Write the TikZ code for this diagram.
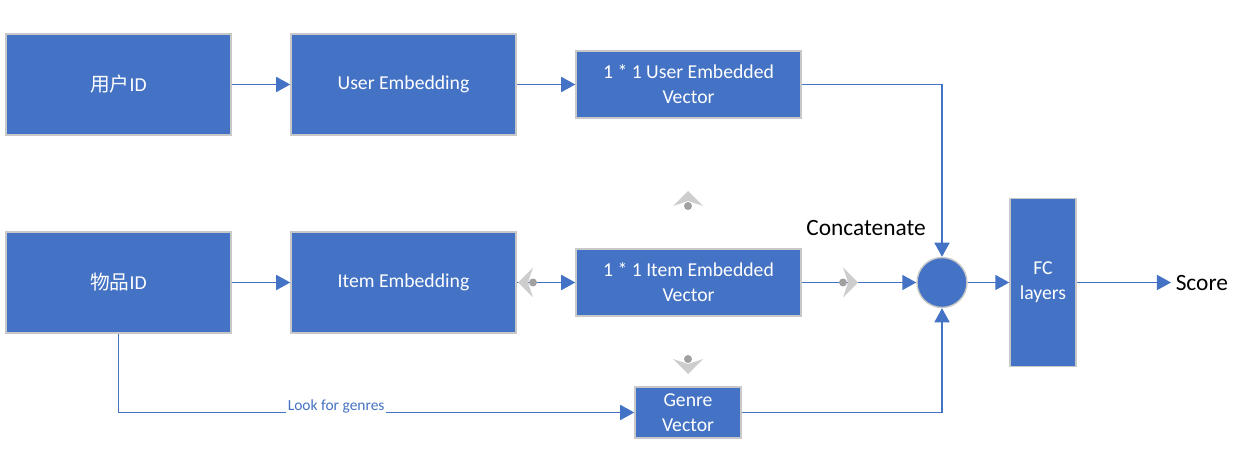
\documentclass[tikz,border=0pt]{standalone}
\usepackage{fontspec}
\setmainfont{Carlito}
\newfontfamily\cjk{Noto Sans CJK SC}
\usetikzlibrary{arrows.meta}
\definecolor{boxblue}{RGB}{68,114,196}
\definecolor{edgegray}{RGB}{200,200,200}
\definecolor{handlegray}{RGB}{205,205,205}
\definecolor{dotgray}{RGB}{160,160,160}

\tikzset{
    block/.style={draw=edgegray, line width=0.8pt, fill=boxblue, text=white, align=center,
        font=\fontsize{11.2}{14.2}\selectfont},
    bigblock/.style={block, minimum width=4.5cm, minimum height=2.02cm},
    vecblock/.style={block, minimum width=4.5cm, minimum height=1.34cm},
    flow/.style={draw=boxblue, line width=1.1pt, -{Triangle[length=8pt,width=8.5pt]}},
    handle/.style={fill=handlegray},
    handledot/.style={fill=dotgray}
}

\begin{document}
\begin{tikzpicture}
        \useasboundingbox (0,0) rectangle (24.92,9.18);

        % user branch
        \node[bigblock] (uid) at (2.37,7.49) {{\cjk 用户}ID};
        \node[bigblock] (uemb) at (8.07,7.49) {User Embedding};
        \node[vecblock] (uvec) at (13.77,7.49) {1 * 1 User Embedded\\Vector};

        % item branch
        \node[bigblock] (iid) at (2.37,3.53) {{\cjk 物品}ID};
        \node[bigblock] (iemb) at (8.07,3.53) {Item Embedding};
        \node[vecblock] (ivec) at (13.77,3.53) {1 * 1 Item Embedded\\Vector};
        \node[block, minimum width=2.12cm, minimum height=1.02cm] (genre) at (13.76,0.93) {Genre\\Vector};

        % concatenation and output
        \node[circle, draw=edgegray, line width=0.8pt, fill=boxblue, minimum size=1cm, inner sep=0pt] (cat) at (18.84,3.53) {};
        \node[font=\fontsize{13.3}{16}\selectfont] (catlabel) at (17.32,4.62) {Concatenate};
        \node[block, minimum width=1.32cm, minimum height=3.36cm] (fc) at (20.86,3.53) {FC\\layers};
        \node[anchor=west, inner sep=2.5pt, font=\fontsize{13.3}{16}\selectfont] (score) at (23.42,3.53) {Score};

        \draw[flow] (uid) -- (uemb);
        \draw[flow] (uemb) -- (uvec);
        \draw[flow] (iid) -- (iemb);
        \draw[flow] (iemb) -- (ivec);
        \draw[flow] (uvec.east) -| (cat.north);
        \draw[flow] (ivec) -- (cat);
        \draw[flow] (genre.east) -| (cat.south);
        \draw[flow] (iid.south) |- node[pos=0.711, yshift=3.4pt, fill=white, inner sep=1pt, text=boxblue,
            font=\fontsize{8.8}{10}\selectfont] (looklabel) {Look for genres} (genre.west);
        \draw[flow] (cat) -- (fc);
        \draw[flow] (fc) -- (score);

        % connection handles
        \fill[handle, rotate around={0:(13.76,5.06)}] (13.46,5.06) -- (13.76,5.36) -- (14.06,5.06) -- (13.76,5.16) -- cycle;
        \fill[handle, rotate around={180:(13.76,2.0)}] (13.46,2.0) -- (13.76,2.3) -- (14.06,2.0) -- (13.76,2.1) -- cycle;
        \fill[handle, rotate around={90:(10.66,3.53)}] (10.36,3.53) -- (10.66,3.83) -- (10.96,3.53) -- (10.66,3.63) -- cycle;
        \fill[handle, rotate around={-90:(16.86,3.53)}] (16.56,3.53) -- (16.86,3.83) -- (17.16,3.53) -- (16.86,3.63) -- cycle;
        \fill[handledot] (13.76,5.06) circle (0.08);
        \fill[handledot] (13.76,2.0) circle (0.08);
        \fill[handledot] (10.66,3.53) circle (0.08);
        \fill[handledot] (16.86,3.53) circle (0.08);
\end{tikzpicture}
\end{document}
